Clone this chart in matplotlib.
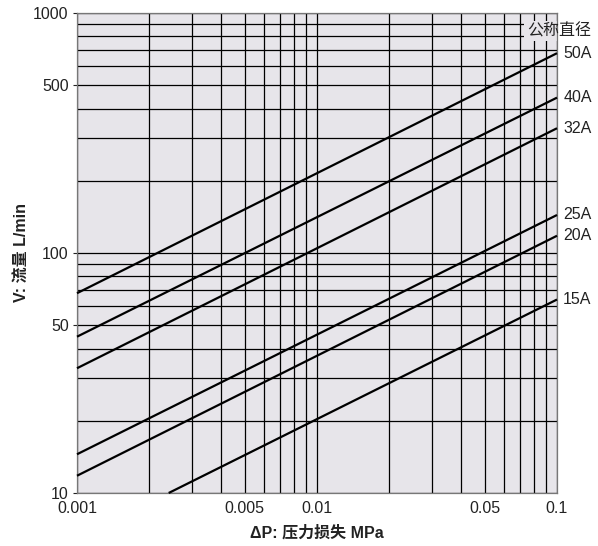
import matplotlib
matplotlib.use("Agg")
import matplotlib.pyplot as plt
from matplotlib.patches import Rectangle
from matplotlib.ticker import FixedLocator, NullFormatter

plt.rcParams['font.family'] = ['Liberation Sans', 'Noto Sans CJK SC', 'DejaVu Sans']

# Data: pressure drop (MPa) endpoints and flow (L/min) for each nominal size
sizes = ['50A', '40A', '32A', '25A', '20A', '15A']
dp_start = [0.001, 0.001, 0.001, 0.001, 0.001, 0.00241]
dp_end = [0.1, 0.1, 0.1, 0.1, 0.1, 0.1]
flow_start = [68, 44.8, 33.1, 14.5, 11.8, 10]
flow_end = [680, 444, 331, 144, 118, 64]

x_major = [0.001, 0.005, 0.01, 0.05, 0.1]
x_major_labels = ['0.001', '0.005', '0.01', '0.05', '0.1']
x_minor = [0.002, 0.003, 0.004, 0.006, 0.007, 0.008, 0.009,
           0.02, 0.03, 0.04, 0.06, 0.07, 0.08, 0.09]
y_major = [10, 50, 100, 500, 1000]
y_major_labels = ['10', '50', '100', '500', '1000']
y_minor = [20, 30, 40, 60, 70, 80, 90, 200, 300, 400, 600, 700, 800, 900]

bg = '#e7e5ea'

fig = plt.figure(figsize=(5.98, 5.46), dpi=100)
ax = fig.add_axes([77/598, 53/546, 480/598, 480/546])
ax.set_facecolor(bg)
ax.set_xscale('log')
ax.set_yscale('log')
ax.set_xlim(0.001, 0.1)
ax.set_ylim(10, 1000)

ax.xaxis.set_major_locator(FixedLocator(x_major))
ax.xaxis.set_minor_locator(FixedLocator(x_minor))
ax.set_xticklabels(x_major_labels)
ax.xaxis.set_minor_formatter(NullFormatter())
ax.yaxis.set_major_locator(FixedLocator(y_major))
ax.yaxis.set_minor_locator(FixedLocator(y_minor))
ax.set_yticklabels(y_major_labels)
ax.yaxis.set_minor_formatter(NullFormatter())

ax.grid(True, which='both', color='black', linewidth=0.9)
ax.set_axisbelow(True)
ax.tick_params(axis='x', which='both', length=0, labelsize=11.5, pad=6, colors='#222222')
ax.tick_params(axis='y', which='major', length=3, width=0.8, labelsize=11.5, pad=3,
               colors='#222222')
ax.tick_params(axis='y', which='minor', length=0)
for s in ax.spines.values():
    s.set_color('#777777')
    s.set_linewidth(0.9)

for name, x0, x1, y0, y1 in zip(sizes, dp_start, dp_end, flow_start, flow_end):
    ax.plot([x0, x1], [y0, y1], color='black', linewidth=1.6, solid_capstyle='butt',
            clip_on=False, zorder=3)
    ax.annotate(name, xy=(x1, y1), xytext=(4.5, 0), textcoords='offset points',
                ha='left', va='center', fontsize=11.5, color='#222222',
                annotation_clip=False)

# header label with background patch over grid
ax.add_patch(Rectangle(((524-77)/480, 1-(41-13)/480), (557-524)/480, 20/480,
                       transform=ax.transAxes, facecolor=bg, edgecolor='none',
                       zorder=2.5))
ax.text((527-77)/480, 1-(31-13)/480, '公称直径', transform=ax.transAxes,
        ha='left', va='center', fontsize=11.5, color='#222222', zorder=4)

ax.set_xlabel('ΔP: 压力损失 MPa', fontsize=11.5, fontweight='bold', labelpad=6,
              color='#222222')
ax.set_ylabel('V: 流量 L/min', fontsize=11.5, fontweight='bold', labelpad=3,
              color='#222222')

fig.savefig('out.png', dpi=100)
